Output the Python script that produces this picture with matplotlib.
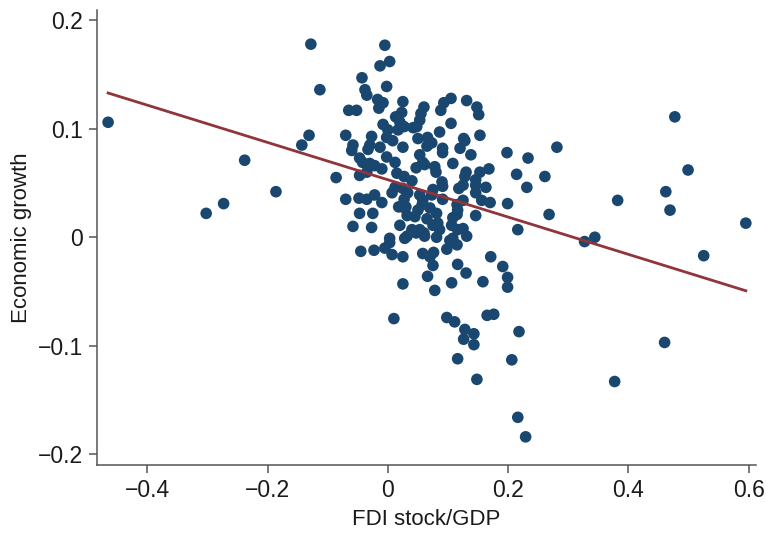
import numpy as np
import matplotlib
matplotlib.use('Agg')
import matplotlib.pyplot as plt

plt.rcParams['font.family'] = ['Liberation Sans Narrow', 'Liberation Sans', 'DejaVu Sans']

# FDI stock/GDP (x) vs economic growth (y)
fdi = [
    -0.465, -0.302, -0.273, -0.238, -0.186, -0.143, -0.131, -0.128, -0.113, -0.086,
    -0.005, -0.013, 0.003, -0.043, -0.002, -0.038, -0.035, -0.017, -0.008, -0.015,
    0.025, -0.065, -0.052, 0.023, 0.013, 0.020, 0.027, -0.008, 0.000, -0.070,
    -0.027, -0.002, 0.008, 0.017,
    0.105, 0.093, 0.131, 0.148, 0.151, 0.060, 0.055, 0.053, 0.048, 0.088,
    0.105, 0.086, 0.042, 0.050, 0.066, 0.126, 0.153,
    -0.058, -0.060, -0.030, -0.033, -0.013, 0.025, -0.002, 0.012, -0.047, -0.042,
    -0.030, -0.022, -0.010, -0.035, -0.047, 0.015, 0.027, 0.012, 0.007, 0.025,
    0.033, -0.070, -0.048, -0.035, -0.022, -0.010, 0.018, 0.028, -0.047, -0.025,
    -0.058, -0.027, 0.020, 0.003, 0.028,
    0.065, 0.073, 0.091, 0.091, 0.120, 0.128, 0.138, 0.198, 0.233, 0.053,
    0.058, 0.061, 0.047, 0.078, 0.080, 0.108, 0.130, 0.128, 0.153, 0.168,
    0.214, 0.040, 0.090, 0.091, 0.146, 0.146, 0.163, 0.125, 0.118, 0.231,
    0.075, 0.073, 0.146, 0.027, 0.030, 0.053, 0.058, 0.057, 0.091, 0.125,
    0.115, 0.116, 0.156, 0.170, 0.199, 0.050, 0.070, 0.081, 0.032, 0.045,
    0.146, 0.115, 0.108, 0.065, 0.075, 0.040, 0.053, 0.083, 0.086, 0.106,
    0.116, 0.125, 0.216, 0.032, 0.061, 0.081, 0.108, 0.131,
    -0.045, -0.023, -0.005, 0.003, 0.007, 0.025, 0.047, 0.060, 0.058, 0.070,
    0.076, 0.075, 0.098, 0.103, 0.115, 0.116, 0.130, 0.066, 0.025, 0.078,
    0.106, 0.158, 0.171, 0.191, 0.199, 0.199, 0.010, 0.098, 0.111, 0.128,
    0.143, 0.126, 0.143, 0.165, 0.176, 0.218, 0.116, 0.206, 0.148, 0.216,
    0.229,
    0.281, 0.261, 0.268, 0.327, 0.344, 0.382, 0.377, 0.462, 0.469, 0.477,
    0.499, 0.525, 0.595, 0.460,
]
growth = [
    0.106, 0.022, 0.031, 0.071, 0.042, 0.085, 0.094, 0.178, 0.136, 0.055,
    0.177, 0.158, 0.162, 0.147, 0.139, 0.136, 0.131, 0.127, 0.124, 0.119,
    0.125, 0.117, 0.117, 0.115, 0.111, 0.106, 0.102, 0.104, 0.099, 0.094,
    0.093, 0.092, 0.089, 0.099,
    0.128, 0.124, 0.126, 0.120, 0.113, 0.120, 0.114, 0.108, 0.102, 0.117,
    0.105, 0.097, 0.101, 0.091, 0.092, 0.091, 0.094,
    0.085, 0.080, 0.085, 0.081, 0.083, 0.083, 0.074, 0.069, 0.073, 0.069,
    0.068, 0.066, 0.063, 0.060, 0.057, 0.059, 0.056, 0.046, 0.041, 0.045,
    0.041, 0.035, 0.036, 0.035, 0.039, 0.032, 0.028, 0.027, 0.022, 0.022,
    0.010, 0.009, 0.011, -0.001, -0.001,
    0.084, 0.087, 0.082, 0.078, 0.082, 0.089, 0.076, 0.078, 0.073, 0.076,
    0.069, 0.067, 0.064, 0.065, 0.060, 0.068, 0.060, 0.056, 0.060, 0.063,
    0.058, 0.052, 0.051, 0.047, 0.053, 0.048, 0.046, 0.048, 0.045, 0.046,
    0.044, 0.039, 0.041, 0.035, 0.028, 0.039, 0.034, 0.030, 0.035, 0.034,
    0.030, 0.025, 0.034, 0.032, 0.031, 0.025, 0.027, 0.022, 0.020, 0.019,
    0.020, 0.021, 0.018, 0.017, 0.011, 0.007, 0.007, 0.013, 0.007, 0.011,
    0.007, 0.008, 0.007, 0.001, 0.001, 0.000, -0.001, 0.001,
    -0.013, -0.012, -0.010, -0.005, -0.016, -0.018, 0.004, 0.004, -0.015, -0.018,
    -0.014, -0.026, -0.011, -0.003, -0.007, -0.025, -0.033, -0.036, -0.043, -0.049,
    -0.042, -0.041, -0.018, -0.027, -0.037, -0.046, -0.075, -0.074, -0.078, -0.085,
    -0.089, -0.094, -0.099, -0.072, -0.071, -0.087, -0.112, -0.113, -0.131, -0.166,
    -0.184,
    0.083, 0.056, 0.021, -0.004, 0.000, 0.034, -0.133, 0.042, 0.025, 0.111,
    0.062, -0.017, 0.013, -0.097,
]

# fitted line
fit_intercept = 0.053
fit_slope = -0.172

fdi = np.array(fdi)
growth = np.array(growth)

fig = plt.figure(figsize=(7.66, 5.37), dpi=100)
ax = fig.add_axes([0.1262, 0.134, 0.8608, 0.8474])

ax.scatter(fdi, growth, s=70, color='#1a476f', edgecolors='none', zorder=2)

xs = np.array([fdi.min(), fdi.max()])
ax.plot(xs, fit_intercept + fit_slope * xs, color='#90353b', lw=2.0, zorder=3)

ax.set_xlim(-0.484, 0.612)
ax.set_ylim(-0.210, 0.2095)
ax.set_xticks([-0.4, -0.2, 0, 0.2, 0.4, 0.6])
ax.set_xticklabels(['\u22120.4', '\u22120.2', '0', '0.2', '0.4', '0.6'])
ax.set_yticks([-0.2, -0.1, 0, 0.1, 0.2])
ax.set_yticklabels(['\u22120.2', '\u22120.1', '0', '0.1', '0.2'])

for s in ['top', 'right']:
    ax.spines[s].set_visible(False)
for s in ['left', 'bottom']:
    ax.spines[s].set_color('#555555')
    ax.spines[s].set_linewidth(1.1)
ax.tick_params(direction='out', length=6, width=1.1, color='#555555',
               labelsize=16.5, labelcolor='#1a1a1a', pad=4)

ax.set_xlabel('FDI stock/GDP', fontsize=16, color='#1a1a1a', labelpad=5)
ax.set_ylabel('Economic growth', fontsize=16, color='#1a1a1a', labelpad=4)

fig.savefig('out.png', dpi=100)
